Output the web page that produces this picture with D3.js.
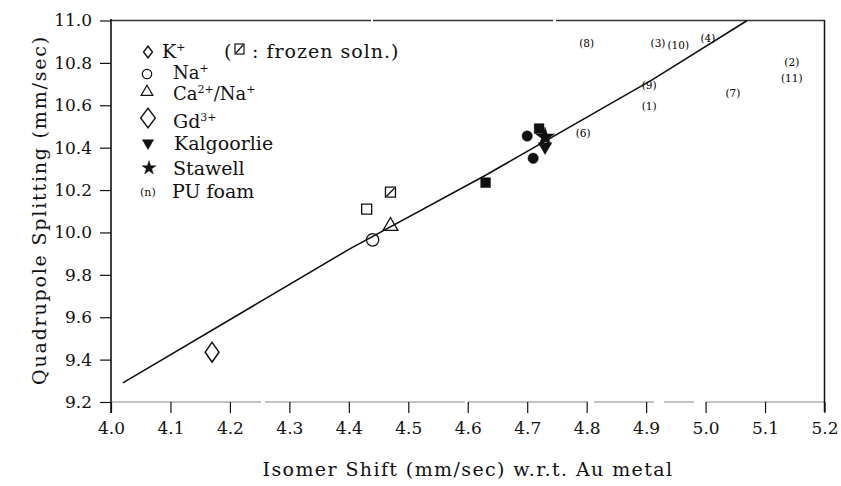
<!DOCTYPE html>
<html>
<head>
<meta charset="utf-8">
<script src="https://cdn.jsdelivr.net/npm/d3@7"></script>
<style>
  body { margin: 0; background: #fff; }
  svg { display: block; font-family: "DejaVu Serif", "Liberation Serif", serif; }
</style>
</head>
<body>
<svg id="chart" width="841" height="486"></svg>
<script>
// Values
const xTicks = [4.0, 4.1, 4.2, 4.3, 4.4, 4.5, 4.6, 4.7, 4.8, 4.9, 5.0, 5.1, 5.2];
const yTicks = [9.2, 9.4, 9.6, 9.8, 10.0, 10.2, 10.4, 10.6, 10.8, 11.0];

const kSoln = [[4.43, 10.11]];          // open square
const kFrozen = [[4.47, 10.19]];        // crossed square
const naSoln = [[4.44, 9.965]];         // open circle
const caNa = [[4.47, 10.03]];           // open triangle
const gdSoln = [[4.17, 9.435]];         // open diamond
const solidSquares = [[4.63, 10.235], [4.72, 10.49]];
const solidCircles = [[4.70, 10.455], [4.71, 10.35]];
const kalgoorlie = [[4.73, 10.405]];
const stawell = [[4.73, 10.45]];
const puFoam = [
    { n: "1", x: 4.905, y: 10.597 }, { n: "2", x: 5.145, y: 10.805 },
    { n: "3", x: 4.92, y: 10.894 },  { n: "4", x: 5.004, y: 10.918 },
    { n: "6", x: 4.794, y: 10.47 },  { n: "7", x: 5.046, y: 10.659 },
    { n: "8", x: 4.80, y: 10.894 },  { n: "9", x: 4.905, y: 10.696 },
    { n: "10", x: 4.954, y: 10.885 }, { n: "11", x: 5.145, y: 10.729 }
];
const fitLine = [[4.02, 9.29], [4.40, 9.92], [4.63, 10.27], [4.91, 10.72], [5.07, 11.0]];

const svg = d3.select("#chart");
const x = d3.scaleLinear().domain([4.0, 5.2]).range([111, 824.5]);
const y = d3.scaleLinear().domain([9.2, 11.0]).range([402, 20.5]);
const ink = "#111";

// frame lines (top and bottom are faint in the scan)
svg.append("line").attr("x1", 111).attr("x2", 824.5).attr("y1", 20.5).attr("y2", 20.5)
    .attr("stroke", "#333").attr("stroke-width", 1.3).attr("stroke-dasharray", "260,2,180,3,400");
svg.append("line").attr("x1", 111).attr("x2", 824.5).attr("y1", 402).attr("y2", 402)
    .attr("stroke", "#888").attr("stroke-width", 1).attr("stroke-dasharray", "150,4,200,3,120,6,60,10,30,12");
svg.append("line").attr("x1", 824.5).attr("x2", 824.5).attr("y1", 20).attr("y2", 412)
    .attr("stroke", ink).attr("stroke-width", 1.5);

// axes
const xAxis = svg.append("g").attr("transform", "translate(0,402)")
    .call(d3.axisBottom(x).tickValues(xTicks).tickFormat(d3.format(".1f")).tickSize(11).tickPadding(9));
const yAxis = svg.append("g").attr("transform", "translate(111,0)")
    .call(d3.axisLeft(y).tickValues(yTicks).tickFormat(d3.format(".1f")).tickSize(11).tickPadding(8));
[xAxis, yAxis].forEach(g => {
    g.select(".domain").remove();
    g.selectAll("line").attr("stroke", ink).attr("stroke-width", 1.2);
    g.selectAll("text").attr("fill", ink).attr("font-size", 17).attr("font-family", "DejaVu Serif");
});
svg.append("line").attr("x1", 111).attr("x2", 111).attr("y1", 19).attr("y2", 413)
    .attr("stroke", ink).attr("stroke-width", 1.6);

// axis titles
svg.append("text").attr("x", 468).attr("y", 476).attr("text-anchor", "middle")
    .attr("font-size", 19).attr("letter-spacing", 1.4).attr("fill", ink)
    .text("Isomer Shift (mm/sec) w.r.t. Au metal");
svg.append("text").attr("transform", "translate(46,210) rotate(-90)").attr("text-anchor", "middle")
    .attr("font-size", 19).attr("letter-spacing", 1.8).attr("fill", ink)
    .text("Quadrupole Splitting (mm/sec)");

// fitted line
svg.append("path").datum(fitLine)
    .attr("d", d3.line().x(d => x(d[0])).y(d => y(d[1])))
    .attr("fill", "none").attr("stroke", ink).attr("stroke-width", 1.6);

// marker helper
function drawMarks(data, type, size, filled, extra) {
    svg.selectAll(null).data(data).enter().append("path")
        .attr("transform", d => `translate(${x(d[0])},${y(d[1])})${extra || ""}`)
        .attr("d", d3.symbol().type(type).size(size))
        .attr("fill", filled ? ink : "none")
        .attr("stroke", ink).attr("stroke-width", filled ? 0.5 : 1.3);
}

drawMarks(kSoln, d3.symbolSquare, 100, false);
drawMarks(kFrozen, d3.symbolSquare, 100, false);
svg.selectAll(null).data(kFrozen).enter().append("line")
    .attr("x1", d => x(d[0]) - 4).attr("y1", d => y(d[1]) + 4)
    .attr("x2", d => x(d[0]) + 4).attr("y2", d => y(d[1]) - 4)
    .attr("stroke", ink).attr("stroke-width", 1.3);
drawMarks(naSoln, d3.symbolCircle, 120, false);
drawMarks(caNa, d3.symbolTriangle, 95, false);
drawMarks(gdSoln, d3.symbolDiamond, 115, false, " scale(1.2,1)");
drawMarks(solidSquares, d3.symbolSquare, 95, true);
drawMarks(solidCircles, d3.symbolCircle, 85, true);
drawMarks(kalgoorlie, d3.symbolTriangle, 80, true, " rotate(180)");
drawMarks(stawell, d3.symbolStar, 110, true);

// PU foam sample numbers
svg.selectAll(null).data(puFoam).enter().append("text")
    .attr("x", d => x(d.x)).attr("y", d => y(d.y) + 4)
    .attr("text-anchor", "middle").attr("font-size", 10.5).attr("fill", "#000")
    .text(d => `(${d.n})`);

// legend
const legend = svg.append("g").attr("fill", ink).attr("font-size", 19);
function legendSym(cx, cy, type, size, filled, extra) {
    legend.append("path").attr("transform", `translate(${cx},${cy})${extra || ""}`)
        .attr("d", d3.symbol().type(type).size(size))
        .attr("fill", filled ? ink : "none").attr("stroke", ink)
        .attr("stroke-width", filled ? 0.5 : 1.2);
}
function supText(tx, ty, parts, fs) {
    const t = legend.append("text").attr("x", tx).attr("y", ty).attr("font-size", fs || 19);
    parts.forEach(p => {
        const s = t.append("tspan").text(p[0]);
        if (p[1]) s.attr("font-size", 11).attr("dy", -7);
        else if (p[2]) s.attr("dy", 7);
    });
    return t;
}

legendSym(148, 52, d3.symbolDiamond, 40, false, " scale(1.3,1)");
supText(162, 58, [["K"], ["+", 1]]);
legend.append("text").attr("x", 224).attr("y", 58).text("(");
legend.append("rect").attr("x", 235).attr("y", 44).attr("width", 9).attr("height", 10)
    .attr("fill", "none").attr("stroke", ink).attr("stroke-width", 1.2);
legend.append("line").attr("x1", 236).attr("y1", 53).attr("x2", 243).attr("y2", 45)
    .attr("stroke", ink).attr("stroke-width", 1.2);
legend.append("text").attr("x", 252).attr("y", 58).attr("letter-spacing", 1).text(": frozen soln.)");

legendSym(147, 74, d3.symbolCircle, 70, false);
supText(173, 79, [["Na"], ["+", 1]], 18);
legendSym(147, 92, d3.symbolTriangle, 60, false);
supText(173, 100, [["Ca"], ["2+", 1], ["/Na", 0, 1], ["+", 1]], 18);
legendSym(148, 118, d3.symbolDiamond, 110, false, " scale(1.3,1)");
supText(173, 128, [["Gd"], ["3+", 1]]);
legendSym(148, 143, d3.symbolTriangle, 55, true, " rotate(180)");
legend.append("text").attr("x", 174).attr("y", 150).text("Kalgoorlie");
legendSym(149, 168, d3.symbolStar, 60, true);
legend.append("text").attr("x", 173).attr("y", 175).text("Stawell");
legend.append("text").attr("x", 140).attr("y", 196).attr("font-size", 11).text("(n)");
legend.append("text").attr("x", 172).attr("y", 198).text("PU foam");
</script>
</body>
</html>
